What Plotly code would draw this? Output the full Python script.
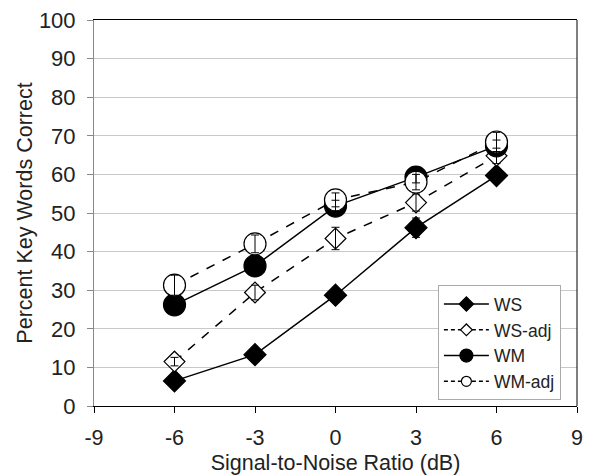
import plotly.graph_objects as go

snr = [-6, -3, 0, 3, 6]
ws = [6.5, 13.3, 28.7, 46.2, 59.7]
ws_err = [1.0, 1.0, 1.5, 2.5, 1.8]
ws_adj = [11.5, 29.4, 43.4, 52.7, 64.8]
ws_adj_err = [1.1, 1.9, 2.9, 2.2, 2.0]
wm = [26.2, 36.3, 51.8, 59.3, 67.4]
wm_err = [1.0, 1.2, 1.5, 1.5, 1.5]
wm_adj = [31.3, 42.0, 53.4, 58.0, 68.4]
wm_adj_err = [2.6, 2.3, 1.8, 2.0, 2.5]

x_ticks = [-9, -6, -3, 0, 3, 6, 9]
y_ticks = list(range(0, 101, 10))

series = [
    ("WS", ws, ws_err, "diamond", 17, 11, "solid", "black"),
    ("WS-adj", ws_adj, ws_adj_err, "diamond", 16, 9, "dash", "white"),
    ("WM", wm, wm_err, "circle", 22, 13, "solid", "black"),
    ("WM-adj", wm_adj, wm_adj_err, "circle", 22, 10, "dash", "white"),
]

fig = go.Figure()

for name, y, err, sym, size, lsize, dash, fill in series:
    fig.add_trace(go.Scatter(
        x=snr, y=y, name=name, mode="lines+markers", showlegend=False,
        line=dict(color="black", width=1.5, dash=dash),
        marker=dict(symbol=sym, size=size, color=fill, line=dict(color="black", width=1.2)),
    ))
for name, y, err, sym, size, lsize, dash, fill in series:
    fig.add_trace(go.Scatter(
        x=snr, y=y, mode="markers", showlegend=False, hoverinfo="skip",
        marker=dict(size=1, opacity=0),
        error_y=dict(type="data", array=err, visible=True, color="black", thickness=1, width=4),
    ))
for name, y, err, sym, size, lsize, dash, fill in series:
    fig.add_trace(go.Scatter(
        x=[None], y=[None], name=name, mode="lines+markers",
        line=dict(color="black", width=1.5, dash="solid" if dash == "solid" else "4px,3px"),
        marker=dict(symbol=sym, size=lsize, color=fill, line=dict(color="black", width=1.2)),
    ))

# page body has an 8px margin; figure is sized so the page is 592x475
fig.update_layout(
    width=584, height=467,
    margin=dict(l=86, r=15, t=12, b=69),
    paper_bgcolor="white", plot_bgcolor="white",
    font=dict(family="Liberation Sans, Arial, sans-serif", size=21, color="#222"),
    legend=dict(x=0.712, y=0.313, xanchor="left", yanchor="top",
                bordercolor="#aaa", borderwidth=1, bgcolor="white",
                font=dict(size=17.5), itemsizing="trace", itemwidth=45, tracegroupgap=0),
    showlegend=True,
    shapes=[dict(type="line", xref="paper", yref="paper", x0=1, x1=1, y0=0, y1=1,
                 line=dict(color="black", width=1))],
)
fig.update_xaxes(range=[-9, 9], tickvals=x_ticks, ticktext=[str(v) for v in x_ticks],
                 showgrid=False, zeroline=False, showline=True, linecolor="black", linewidth=1,
                 mirror=True, ticks="outside", ticklen=6, tickcolor="black",
                 ticklabeloverflow="allow", tickfont=dict(size=21.5), ticklabelstandoff=6,
                 automargin=False,
                 title=dict(text="Signal-to-Noise Ratio (dB)", font=dict(size=21.5), standoff=7))
fig.update_yaxes(range=[0, 100], tickvals=y_ticks,
                 showgrid=True, gridcolor="#c8c8c8", gridwidth=1, zeroline=False,
                 showline=True, linecolor="#888", linewidth=1, mirror=False,
                 ticks="outside", ticklen=6, tickcolor="#888",
                 ticklabeloverflow="allow",
                 tickfont=dict(size=22), ticklabelstandoff=7, automargin=False,
                 title=dict(text="Percent Key Words Correct", font=dict(size=21.5), standoff=0))

fig.write_html("out.html")
